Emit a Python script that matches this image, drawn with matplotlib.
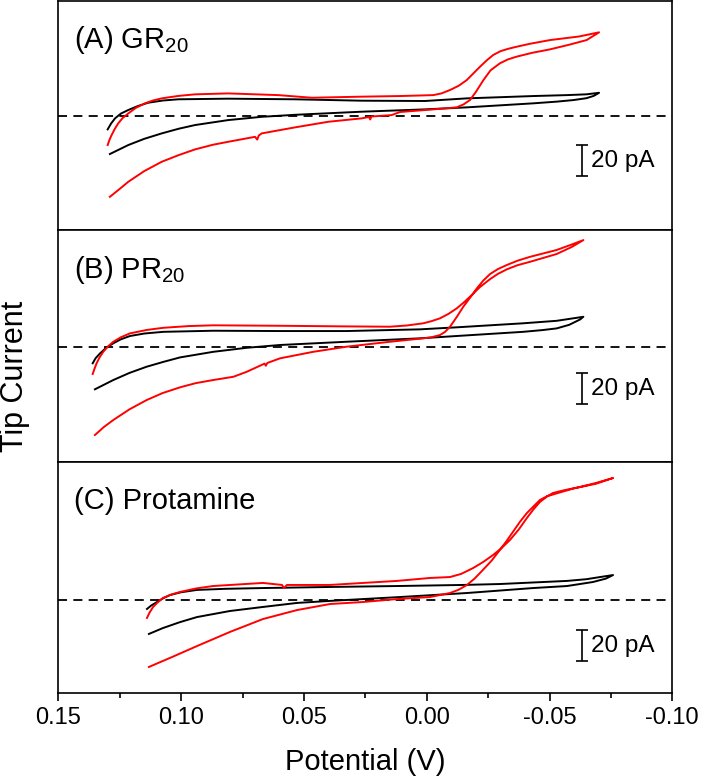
import matplotlib
matplotlib.use("Agg")
import matplotlib.pyplot as plt
from matplotlib.gridspec import GridSpec

plt.rcParams['font.family'] = ['Liberation Sans', 'DejaVu Sans']
plt.rcParams['mathtext.fontset'] = 'custom'
plt.rcParams['mathtext.rm'] = 'Liberation Sans'
plt.rcParams['mathtext.it'] = 'Liberation Sans:italic'

# ---------------- data (potential V, tip current pA) ----------------
# Panel A, GR20
a_black_v = [0.1299, 0.1285, 0.1269, 0.1245, 0.1215, 0.1175, 0.1134, 0.1075, 0.1011, 0.0808, 0.0536, 0.0265,
             0.0007, -0.0163, -0.0434, -0.0570, -0.0650, -0.0702,
             -0.0680, -0.0650, -0.0597, -0.0530, -0.0434, -0.0163, 0.0007, 0.0265, 0.0536, 0.0672, 0.0808,
             0.0943, 0.1010, 0.1079, 0.1150, 0.1215, 0.1290]
a_black_i = [-8.6, -4.8, -1.5, 1.6, 3.9, 6.5, 8.6, 10.0, 10.8, 11.2, 10.8, 9.9,
             9.7, 11.4, 12.9, 13.5, 14.0, 15.0,
             13.0, 11.5, 10.3, 9.3, 8.2, 5.6, 4.3, 2.8, 0.8, -0.5, -2.6,
             -5.8, -8.2, -11.2, -14.7, -18.7, -24.5]

a_red_v = [0.1299, 0.1292, 0.1283, 0.1270, 0.1256, 0.1238, 0.1215, 0.1185, 0.1147, 0.1115, 0.1079, 0.1010,
           0.0943, 0.0808, 0.0604, 0.0468, 0.0265, 0.0109, -0.0027, -0.0060, -0.0095, -0.0130, -0.0163,
           -0.0190, -0.0217, -0.0245, -0.0271, -0.0300, -0.0330, -0.0366, -0.0420, -0.0502, -0.0620, -0.0702,
           -0.0651, -0.0580, -0.0502, -0.0430, -0.0366, -0.0330, -0.0298, -0.0260, -0.0231, -0.0200, -0.0176,
           -0.0150, -0.0122, -0.0027, 0.0109, 0.0143, 0.0225, 0.0230, 0.0235, 0.0265, 0.0401, 0.0536, 0.0672,
           0.0684, 0.0690, 0.0699, 0.0808, 0.0870, 0.0943, 0.1010, 0.1079, 0.1150, 0.1215, 0.1250, 0.1290]
a_red_i = [-18.7, -15.5, -12.3, -8.3, -4.7, -1.3, 1.7, 5.2, 8.2, 10.0, 11.4, 13.0,
           14.0, 14.6, 13.5, 11.8, 12.5, 12.9, 13.5, 14.6, 16.8, 19.5, 23.2,
           27.5, 31.8, 36.0, 39.4, 41.8, 43.3, 44.7, 46.6, 49.0, 51.3, 54.0,
           49.0, 46.0, 43.0, 40.8, 38.3, 36.5, 34.0, 29.5, 23.2, 15.5, 10.3,
           7.5, 5.6, 4.3, 2.6, 0.6, -0.3, -2.2, -0.6, -1.5, -3.7, -7.3, -11.2,
           -12.6, -15.2, -13.4, -16.6, -18.5, -21.5, -25.2, -29.5, -35.5, -42.4, -47.0, -52.1]

# Panel B, PR20
b_black_v = [0.1360, 0.1348, 0.1330, 0.1305, 0.1276, 0.1245, 0.1208, 0.1150, 0.1072, 0.0869, 0.0597, 0.0326,
             0.0027, -0.0122, -0.0393, -0.0529, -0.0638,
             -0.0625, -0.0580, -0.0529, -0.0470, -0.0393, -0.0122, 0.0027, 0.0326, 0.0597, 0.0733, 0.0869,
             0.1004, 0.1070, 0.1140, 0.1210, 0.1276, 0.1351]
b_black_i = [-10.8, -7.5, -4.4, -0.8, 2.1, 4.7, 6.8, 8.4, 9.5, 10.2, 10.0, 10.0,
             11.1, 12.4, 15.0, 16.6, 19.2,
             17.5, 14.0, 11.7, 10.6, 9.5, 6.8, 5.3, 3.1, 1.0, -0.8, -3.4,
             -7.0, -9.8, -13.0, -17.0, -21.6, -27.6]

b_red_v = [0.1360, 0.1353, 0.1344, 0.1332, 0.1317, 0.1298, 0.1276, 0.1245, 0.1208, 0.1140, 0.1072, 0.0970,
           0.0869, 0.0597, 0.0326, 0.0149, 0.0080, 0.0014, -0.0020, -0.0054, -0.0090, -0.0122, -0.0150,
           -0.0176, -0.0217, -0.0258, -0.0290, -0.0326, -0.0370, -0.0421, -0.0475, -0.0529, -0.0590, -0.0638,
           -0.0590, -0.0529, -0.0475, -0.0421, -0.0370, -0.0326, -0.0290, -0.0258, -0.0230, -0.0204, -0.0178,
           -0.0149, -0.0122, -0.0095, -0.0075, -0.0054, -0.0020, 0.0014, 0.0149, 0.0326, 0.0462,
           0.0597, 0.0649, 0.0655, 0.0660, 0.0733, 0.0787, 0.0869, 0.0940, 0.1004, 0.1075, 0.1140, 0.1210,
           0.1276, 0.1315, 0.1351]
b_red_i = [-17.7, -14.5, -10.8, -7.0, -3.4, 0.0, 3.1, 6.0, 8.5, 10.7, 12.1, 13.2,
           13.7, 13.4, 13.0, 12.8, 13.6, 15.0, 16.4, 18.2, 21.2, 24.6, 28.3,
           32.1, 38.4, 43.5, 46.9, 49.8, 52.5, 54.7, 57.2, 59.7, 64.2, 68.7,
           65.8, 62.3, 60.1, 57.9, 55.4, 52.6, 50.0, 46.8, 42.5, 37.5, 31.8,
           25.7, 19.0, 12.8, 9.5, 7.4, 6.0, 5.3, 3.1, -0.1, -3.4,
           -7.6, -10.6, -12.4, -11.0, -16.3, -19.5, -21.6, -23.6, -26.3, -30.0, -34.5, -40.5,
           -47.4, -52.0, -57.1]

# Panel C, protamine
c_black_v = [0.1139, 0.1122, 0.1098, 0.1072, 0.1045, 0.1000, 0.0935, 0.0820, 0.0667, 0.0394, 0.0121,
             -0.0148, -0.0298, -0.0571, -0.0650, -0.0706, -0.0759,
             -0.0730, -0.0677, -0.0620, -0.0571, -0.0433, -0.0164, 0.0109, 0.0259, 0.0394, 0.0528, 0.0667,
             0.0801, 0.0935, 0.1005, 0.1074, 0.1131]
c_black_i = [-5.8, -3.6, -1.3, 1.2, 3.2, 5.0, 6.5, 7.2, 7.7, 8.4, 9.0,
             9.7, 10.3, 12.3, 13.4, 14.8, 16.1,
             13.8, 11.6, 10.2, 9.0, 7.7, 4.5, 1.9, 0.6, -0.6, -1.9, -4.5,
             -7.1, -11.0, -14.3, -18.1, -21.9]

c_red_v = [0.1139, 0.1128, 0.1114, 0.1095, 0.1074, 0.1040, 0.1004, 0.0940, 0.0870, 0.0667, 0.0589, 0.0581,
           0.0569, 0.0394, 0.0259, 0.0121, -0.0013, -0.0095, -0.0140, -0.0189, -0.0230, -0.0270, -0.0305,
           -0.0339, -0.0375, -0.0408, -0.0435, -0.0461, -0.0490, -0.0514, -0.0560, -0.0624, -0.0690, -0.0759,
           -0.0690, -0.0600, -0.0530, -0.0490, -0.0461, -0.0408, -0.0380, -0.0351, -0.0325, -0.0298, -0.0265,
           -0.0229, -0.0195, -0.0164, -0.0130, -0.0095, -0.0013, 0.0121, 0.0259, 0.0394, 0.0528,
           0.0667, 0.0801, 0.0935, 0.1037, 0.1131]
c_red_i = [-11.6, -8.0, -4.5, -1.5, 1.3, 3.5, 5.2, 7.4, 9.0, 11.0, 9.7, 7.7,
           9.7, 9.7, 11.0, 12.3, 14.2, 14.8, 16.8, 20.6, 24.5, 29.0, 33.5,
           38.7, 45.5, 52.9, 58.5, 63.2, 66.8, 69.0, 70.8, 72.9, 75.5, 78.7,
           75.0, 72.0, 68.8, 66.9, 64.5, 56.1, 50.5, 43.9, 38.0, 32.3, 25.5,
           19.4, 13.8, 9.7, 6.6, 4.5, 1.9, 0.6, -1.3, -2.6, -6.5,
           -12.3, -20.6, -29.7, -36.8, -43.2]

panel_labels = [r"(A) GR$\mathregular{_{20}}$", r"(B) PR$\mathregular{_{20}}$", "(C) Protamine"]
panel_ylims = [(-73.5, 74.2), (-74.5, 75.2), (-59.8, 89.0)]
scalebar_top = [-18.7, -17.1, -19.4]
scalebar_len = 20.0
scalebar_x = -0.0631
xticks = [0.15, 0.10, 0.05, 0.00, -0.05, -0.10]
xticklabels = ["0.15", "0.10", "0.05", "0.00", "-0.05", "-0.10"]
xminor = [0.125, 0.075, 0.025, -0.025, -0.075]

panels = [(a_black_v, a_black_i, a_red_v, a_red_i),
          (b_black_v, b_black_i, b_red_v, b_red_i),
          (c_black_v, c_black_i, c_red_v, c_red_i)]

# ---------------- figure ----------------
W, H = 701, 780
fig = plt.figure(figsize=(W / 100, H / 100), dpi=100)
gs = GridSpec(3, 1, figure=fig, height_ratios=[229, 232, 230.7], hspace=0,
              left=58.3 / W, right=672.3 / W, top=1 - 1 / H, bottom=1 - 692.7 / H)

axes = []
for k in range(3):
    ax = fig.add_subplot(gs[k], sharex=axes[0] if axes else None)
    axes.append(ax)
    bv, bi, rv, ri = panels[k]
    ax.axhline(0, color='black', lw=1.3, ls=(0, (5, 3.5)), zorder=1)
    ax.plot(bv, bi, color='black', lw=1.4, solid_joinstyle='round', zorder=2)
    ax.plot(rv, ri, color='#ff0000', lw=1.4, solid_joinstyle='round', zorder=3)
    ax.set_ylim(*panel_ylims[k])
    ax.set_yticks([])
    for sp in ax.spines.values():
        sp.set_linewidth(1.2)
    ax.text(0.026, 0.795, panel_labels[k], transform=ax.transAxes,
            fontsize=21, ha='left', va='baseline')
    yc = scalebar_top[k] - scalebar_len / 2
    ax.errorbar([scalebar_x], [yc], yerr=[scalebar_len / 2], fmt='none',
                ecolor='black', elinewidth=1.2, capsize=4, capthick=1.2)
    ax.text(scalebar_x - 0.0038, yc, "20 pA", fontsize=17.5, ha='left', va='center')

ax = axes[-1]
ax.set_xlim(0.15, -0.10)
ax.set_xticks(xticks)
ax.set_xticklabels(xticklabels)
ax.set_xticks(xminor, minor=True)
ax.tick_params(axis='x', which='major', direction='out', length=6, width=1.2,
               labelsize=17, pad=4)
ax.tick_params(axis='x', which='minor', direction='out', length=3.5, width=1.2)
for a in axes[:-1]:
    a.tick_params(axis='x', which='both', bottom=False, labelbottom=False)

fig.text((58.3 + 672.3) / 2 / W, 1 - 762 / H, "Potential (V)", fontsize=21,
         ha='center', va='center')
fig.text(15 / W, 1 - 376 / H, "Tip Current", fontsize=22, rotation=90,
         ha='center', va='center')

fig.savefig("out.png", dpi=100)
